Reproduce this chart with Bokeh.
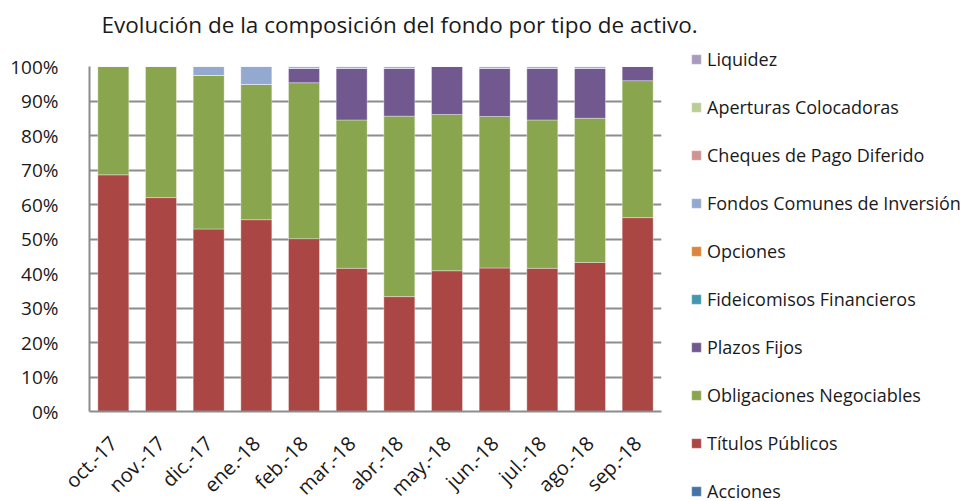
from bokeh.plotting import figure
from bokeh.models import (FactorRange, Range1d, FixedTicker, NumeralTickFormatter,
                          Legend, LegendItem, Title)
from bokeh.embed import file_html
from bokeh.resources import INLINE
import math

months = ["oct.-17", "nov.-17", "dic.-17", "ene.-18", "feb.-18", "mar.-18",
          "abr.-18", "may.-18", "jun.-18", "jul.-18", "ago.-18", "sep.-18"]

acciones      = [0, 0, 0, 0, 0, 0, 0, 0, 0, 0, 0, 0]
titulos       = [0.686, 0.620, 0.529, 0.556, 0.501, 0.415, 0.333, 0.408, 0.416, 0.415, 0.432, 0.562]
obligaciones  = [0.314, 0.380, 0.445, 0.392, 0.452, 0.430, 0.523, 0.453, 0.439, 0.430, 0.418, 0.397]
plazos        = [0, 0, 0, 0, 0.042, 0.150, 0.139, 0.139, 0.140, 0.150, 0.145, 0.041]
fideicomisos  = [0, 0, 0, 0, 0, 0, 0, 0, 0, 0, 0, 0]
opciones      = [0, 0, 0, 0, 0, 0, 0, 0, 0, 0, 0, 0]
fci           = [0, 0, 0.026, 0.052, 0.005, 0.005, 0.005, 0, 0.005, 0.005, 0.005, 0]
cheques       = [0, 0, 0, 0, 0, 0, 0, 0, 0, 0, 0, 0]
aperturas     = [0, 0, 0, 0, 0, 0, 0, 0, 0, 0, 0, 0]
liquidez      = [0, 0, 0, 0, 0, 0, 0, 0, 0, 0, 0, 0]

series_names = ["Acciones", "Títulos Públicos", "Obligaciones Negociables", "Plazos Fijos",
                "Fideicomisos Financieros", "Opciones", "Fondos Comunes de Inversión",
                "Cheques de Pago Diferido", "Aperturas Colocadoras", "Liquidez"]
series_values = [acciones, titulos, obligaciones, plazos, fideicomisos, opciones,
                 fci, cheques, aperturas, liquidez]
colors = ["#4572A7", "#AA4643", "#89A54E", "#71588F", "#4198AF", "#DB843D",
          "#93A9CF", "#D19392", "#B9CD96", "#A99BBD"]

y_ticks = [0, 0.1, 0.2, 0.3, 0.4, 0.5, 0.6, 0.7, 0.8, 0.9, 1.0]
title_text = "Evolución de la composición del fondo por tipo de activo."

FONT = "Open Sans"

keys = ["s%d" % i for i in range(len(series_names))]
data = {"m": months}
for k, v in zip(keys, series_values):
    data[k] = v

p = figure(x_range=FactorRange(*months), y_range=Range1d(0, 1),
           frame_width=572, frame_height=345,
           output_backend="svg", toolbar_location=None,
           min_border_left=89, min_border_right=307, min_border_top=66,
           min_border_bottom=90, title=title_text)
p.outline_line_color = None
p.background_fill_color = "white"
p.border_fill_color = "white"

p.title.text_font = FONT
p.title.text_font_size = "22.5px"
p.title.text_font_style = "normal"
p.title.text_color = "#1a1a1a"
p.title.align = "left"
p.title.offset = 12
p.title.standoff = 10

# empty spacer between title and plot area
spacer = Title(text=" ", text_font_size="1px", standoff=19)
p.add_layout(spacer, "above")

renderers = p.vbar_stack(keys, x="m", width=0.65, source=data, color=colors,
                         line_color="white", line_alpha=0.35, line_width=1)

p.yaxis.ticker = FixedTicker(ticks=y_ticks)
p.yaxis.formatter = NumeralTickFormatter(format="0%")
p.yaxis.major_label_text_font = FONT
p.yaxis.major_label_text_font_size = "19px"
p.yaxis.major_label_text_color = "#1a1a1a"
p.yaxis.major_tick_line_color = None
p.yaxis.minor_tick_line_color = None
p.yaxis.axis_line_color = "#8c8c8c"
p.yaxis.axis_line_width = 2
p.yaxis.major_label_standoff = 25

p.xaxis.major_label_orientation = math.pi / 4
p.xaxis.major_label_text_font = FONT
p.xaxis.major_label_text_font_size = "20px"
p.xaxis.major_label_text_color = "#1a1a1a"
p.xaxis.major_tick_line_color = None
p.xaxis.axis_line_color = "#8c8c8c"
p.xaxis.axis_line_width = 2
p.xaxis.major_label_standoff = 22

p.xgrid.grid_line_color = None
p.ygrid.grid_line_color = "#8c8c8c"
p.ygrid.grid_line_width = 2

items = [LegendItem(label=n, renderers=[r]) for n, r in zip(series_names, renderers)]
items = items[::-1]
legend = Legend(items=items, location=(29, -92), orientation="vertical",
                label_text_font=FONT, label_text_font_size="18px",
                label_text_color="#1a1a1a", glyph_width=12, glyph_height=12,
                label_height=24, spacing=24, padding=0, margin=0,
                label_standoff=5, border_line_color=None,
                background_fill_alpha=0)
p.add_layout(legend, "right")

open("out.html", "w").write(file_html(p, INLINE))
